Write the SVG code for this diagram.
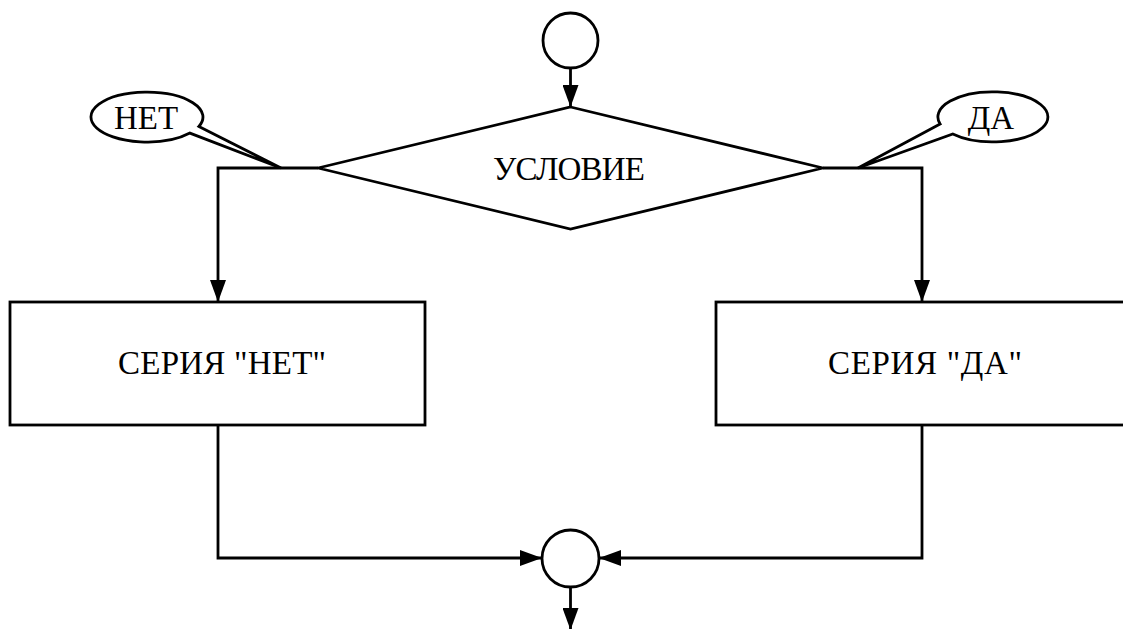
<svg xmlns="http://www.w3.org/2000/svg" width="1123" height="629" viewBox="0 0 1123 629">
  <style>
    .shape { fill: #fff; stroke: #000; stroke-width: 2.8; }
    .line { fill: none; stroke: #000; stroke-width: 2.8; }
    .label { font-family: "Liberation Serif", "Times New Roman", serif; font-size: 33px; fill: #000; text-anchor: middle; }
  </style>
  <defs>
    <marker id="arrow" viewBox="0 0 22 16" refX="22" refY="8" markerWidth="22" markerHeight="16" markerUnits="userSpaceOnUse" orient="auto">
      <path d="M0,0 L22,8 L0,16 Z" fill="#000"/>
    </marker>
  </defs>
  <rect width="1123" height="629" fill="#fff"/>

  <!-- connectors -->
  <g id="connectors">
    <line class="line" x1="570.5" y1="68" x2="570.5" y2="107" marker-end="url(#arrow)"/>
    <polyline class="line" points="318,168 218,168 218,302" marker-end="url(#arrow)"/>
    <polyline class="line" points="823,168 922,168 922,302" marker-end="url(#arrow)"/>
    <polyline class="line" points="218,425 218,558 542,558" marker-end="url(#arrow)"/>
    <polyline class="line" points="922,425 922,558 599,558" marker-end="url(#arrow)"/>
    <line class="line" x1="570.5" y1="587" x2="570.5" y2="630" marker-end="url(#arrow)"/>
  </g>

  <!-- start connector circle -->
  <g id="start">
    <circle class="shape" cx="570.5" cy="40.5" r="27.5"/>
  </g>

  <!-- decision -->
  <g id="condition">
    <polygon class="shape" points="570.5,107 823,168 570.5,229 318,168"/>
    <text class="label" x="569" y="179.5" textLength="152" lengthAdjust="spacing">УСЛОВИЕ</text>
  </g>

  <!-- "no" branch -->
  <g id="series-no">
    <rect class="shape" x="10" y="302" width="415" height="123"/>
    <text class="label" x="222" y="373.5" textLength="208" lengthAdjust="spacing">СЕРИЯ "НЕТ"</text>
  </g>

  <!-- "yes" branch -->
  <g id="series-yes">
    <rect class="shape" x="716" y="302" width="415" height="123"/>
    <text class="label" x="925" y="373.5" textLength="194" lengthAdjust="spacing">СЕРИЯ "ДА"</text>
  </g>

  <!-- merge connector circle -->
  <g id="merge">
    <circle class="shape" cx="570.5" cy="558.5" r="28.5"/>
  </g>

  <!-- callout labels -->
  <g id="callout-no">
    <path class="shape" d="M198.9,126.4 L281,168 L189.9,133.1 A56 25 0 1 1 198.9,126.4 Z"/>
    <text class="label" x="146" y="128.5">НЕТ</text>
  </g>
  <g id="callout-yes">
    <path class="shape" d="M940.1,123.9 L858,168 L952.8,134 A55 25 0 1 0 940.1,123.9 Z"/>
    <text class="label" x="991" y="128.5">ДА</text>
  </g>
</svg>
